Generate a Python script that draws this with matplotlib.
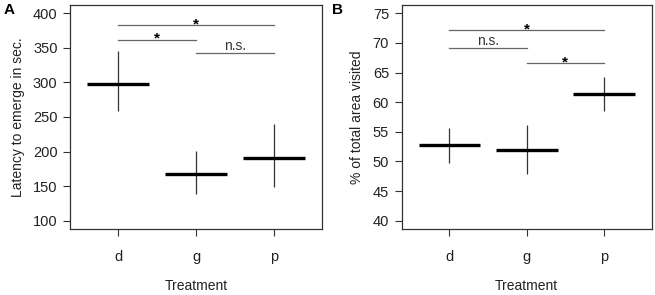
import matplotlib
matplotlib.use('Agg')
import matplotlib.pyplot as plt

plt.rcParams['font.family'] = ['Liberation Sans', 'DejaVu Sans']

treatments = ['d', 'g', 'p']

# Panel A: latency to emerge (sec.)
latency_mean = [298, 168, 191]
latency_low = [258, 138, 149]
latency_high = [345, 201, 240]
# (from, to, y, label)
latency_sig = [(0, 2, 383, '*'), (0, 1, 362, '*'), (1, 2, 342, 'n.s.')]

# Panel B: % of total area visited
area_mean = [52.7, 51.9, 61.4]
area_low = [49.7, 47.9, 58.5]
area_high = [55.6, 56.1, 64.2]
area_sig = [(0, 2, 72.1, '*'), (0, 1, 69.1, 'n.s.'), (1, 2, 66.6, '*')]


def draw_panel(ax, means, lows, highs, sig, ylim, yticks, ylabel):
    x = list(range(len(treatments)))
    for xi, m, lo, hi in zip(x, means, lows, highs):
        ax.plot([xi, xi], [lo, hi], color='#333333', linewidth=0.9, solid_capstyle='butt')
        ax.plot([xi - 0.4, xi + 0.4], [m, m], color='black', linewidth=2.4, solid_capstyle='butt')

    span = ylim[1] - ylim[0]
    for a, b, y, lab in sig:
        ax.plot([a, b], [y, y], color='#666666', linewidth=0.9)
        xm = (a + b) / 2
        if lab == '*':
            ax.text(xm, y - 0.016 * span, lab, ha='center', va='baseline',
                    fontsize=11, fontweight='bold', color='black')
        else:
            ax.text(xm, y + 0.002 * span, lab, ha='center', va='bottom', fontsize=10, color='#333333')

    pad = 0.04 * span
    ax.set_ylim(ylim[0] - pad, ylim[1] + pad)
    ax.set_xlim(-0.62, 2.62)
    ax.set_yticks(yticks)
    ax.set_xticks(x)
    ax.set_xticklabels(treatments)
    ax.tick_params(axis='y', length=5, width=0.8, pad=4, labelsize=10.5, color='#333333', labelcolor='#222222')
    ax.tick_params(axis='x', length=5, width=0.8, pad=10, labelsize=10.5, color='#333333', labelcolor='#222222')
    ax.set_ylabel(ylabel, fontsize=10, color='#222222', labelpad=6)
    ax.set_xlabel('Treatment', fontsize=10, color='#222222', labelpad=11)
    for s in ax.spines.values():
        s.set_color('#333333')
        s.set_linewidth(0.9)


fig = plt.figure(figsize=(6.55, 2.95), dpi=100)
axA = fig.add_axes([0.107, 0.224, 0.385, 0.759])
axB = fig.add_axes([0.613, 0.224, 0.382, 0.759])

draw_panel(axA, latency_mean, latency_low, latency_high, latency_sig,
           (100, 400), [100, 150, 200, 250, 300, 350, 400],
           'Latency to emerge in sec.')
draw_panel(axB, area_mean, area_low, area_high, area_sig,
           (40, 75), [40, 45, 50, 55, 60, 65, 70, 75],
           '% of total area visited')

fig.text(0.005, 0.965, 'A', fontsize=11, fontweight='bold', va='center')
fig.text(0.507, 0.965, 'B', fontsize=11, fontweight='bold', va='center')

fig.savefig('out.png', dpi=100)
